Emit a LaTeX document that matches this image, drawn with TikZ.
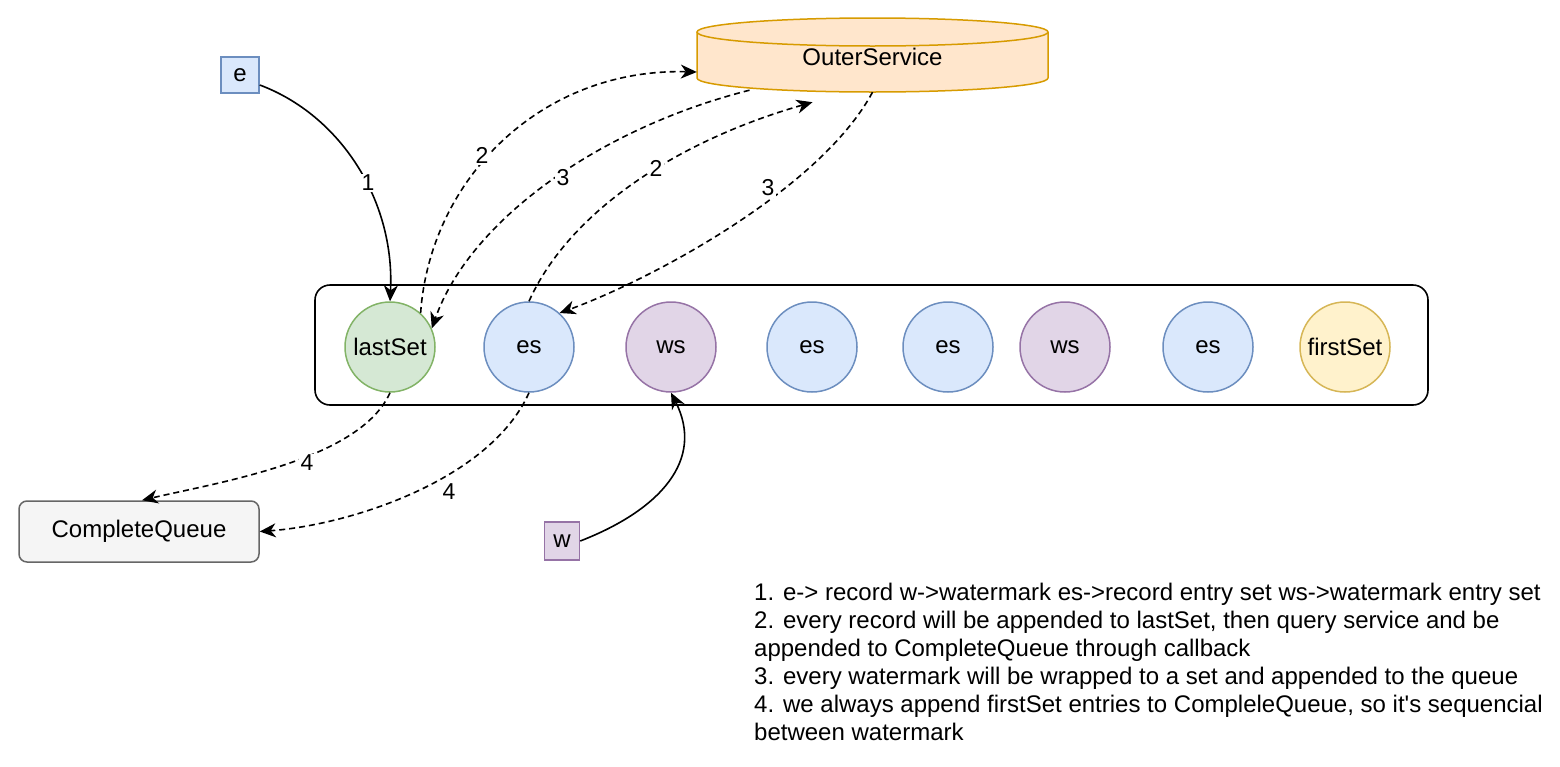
\documentclass[tikz,border=0pt]{standalone}
\usepackage{fontspec}
\setmainfont{Liberation Sans}[Ligatures=TeXOff]
\usetikzlibrary{arrows.meta}
\definecolor{bluefill}{HTML}{DAE8FC}
\definecolor{bluedraw}{HTML}{6C8EBF}
\definecolor{greenfill}{HTML}{D5E8D4}
\definecolor{greendraw}{HTML}{82B366}
\definecolor{purplefill}{HTML}{E1D5E7}
\definecolor{purpledraw}{HTML}{9673A6}
\definecolor{yellowfill}{HTML}{FFF2CC}
\definecolor{yellowdraw}{HTML}{D6B656}
\definecolor{orangefill}{HTML}{FFE6CC}
\definecolor{orangedraw}{HTML}{D79B00}
\definecolor{greyfill}{HTML}{F5F5F5}
\definecolor{greydraw}{HTML}{666666}
\tikzset{
  x=1pt, y=-1pt,
  every node/.style={font=\fontsize{24}{28}\selectfont, inner sep=0pt},
  setnode/.style={circle, minimum size=90pt, line width=1.5pt},
  esnode/.style={setnode, fill=bluefill, draw=bluedraw},
  wsnode/.style={setnode, fill=purplefill, draw=purpledraw},
  conn/.style={line width=1.6pt, -{Stealth[length=16pt,width=14pt,inset=5pt]}},
  dconn/.style={conn, dash pattern=on 6pt off 4pt},
  lbl/.style={fill=white, inner sep=1.5pt, font=\fontsize{23}{26}\selectfont},
}
\begin{document}
\begin{tikzpicture}
\useasboundingbox (0,0) rectangle (1560,766);
% OuterService cylinder
\fill[orangefill] (697,32) -- (697,78) arc[start angle=180, end angle=360, x radius=175.5pt, y radius=14pt] -- (1048,32) arc[start angle=0, end angle=180, x radius=175.5pt, y radius=14pt] -- cycle;
\draw[orangedraw, line width=1.5pt] (697,32) -- (697,78) arc[start angle=180, end angle=360, x radius=175.5pt, y radius=14pt] -- (1048,32);
\draw[orangedraw, line width=1.5pt] (872.5,32) ellipse[x radius=175.5pt, y radius=14pt];
\node[minimum width=351pt, minimum height=74pt] (os) at (872.5,55) {};
\node at (872.5,57) {OuterService};

% queue container
\node[draw, line width=1.6pt, rounded corners=15pt, minimum width=1113pt, minimum height=120pt] (queue) at (871.5,345) {};

% sets
\node[setnode, fill=greenfill, draw=greendraw] (ls) at (390,347) {lastSet};
\node[esnode] (es1) at (529,347) {es};
\node[wsnode] (ws1) at (671,347) {ws};
\node[esnode] (es2) at (812,347) {es};
\node[esnode] (es3) at (948,347) {es};
\node[wsnode] (ws2) at (1065,347) {ws};
\node[esnode] (es4) at (1208,347) {es};
\node[setnode, fill=yellowfill, draw=yellowdraw] (fs) at (1345,347) {firstSet};

% inputs
\node[fill=bluefill, draw=bluedraw, line width=1.5pt, minimum width=38pt, minimum height=36pt] (e) at (240,75) {e};
\node[fill=purplefill, draw=purpledraw, line width=1.5pt, minimum width=35pt, minimum height=38pt] (w) at (562,541) {w};
\node[fill=greyfill, draw=greydraw, line width=1.5pt, rounded corners=8pt, minimum width=240pt, minimum height=61pt] (cq) at (139,531.5) {CompleteQueue};

% connectors
\draw[conn] ([yshift=-10pt]e.east) .. controls (340,115) and (395,200) .. (ls.north);
\node[lbl] at (368,183) {1};

\draw[dconn] (ls.48) .. controls (430,180) and (540,68) .. ([yshift=-17pt]os.west);
\node[lbl] at (482,155) {2};

\draw[dconn] ([xshift=-123pt,yshift=2pt]os.south) .. controls (600,128) and (470,220) .. (ls.24);
\node[lbl] at (563,178) {3};

\draw[dconn] (es1.north) .. controls (570,210) and (680,140) .. ([xshift=-60pt,yshift=-10pt]os.south);
\node[lbl] at (656,168) {2};

\draw[dconn] (os.south) .. controls (820,190) and (650,280) .. (es1.48);
\node[lbl] at (768,188) {3};

\draw[dconn] (ls.south) .. controls (360,460) and (220,482) .. ([xshift=3pt]cq.north);
\node[lbl] at (307,463) {4};

\draw[dconn] (es1.south) .. controls (490,480) and (350,525) .. (cq.east);
\node[lbl] at (449,492) {4};

\draw[conn] (w.east) .. controls (660,510) and (705,460) .. (ws1.south);

% notes
\node[anchor=north west, align=left, font=\fontsize{24}{28}\selectfont] (notes) at (754,583) {1. e-> record w->watermark es->record entry set ws->watermark entry set\\
2. every record will be appended to lastSet, then query service and be\\
appended to CompleteQueue through callback\\
3. every watermark will be wrapped to a set and appended to the queue\\
4. we always append firstSet entries to CompleleQueue, so it's sequencial\\
between watermark};
\end{tikzpicture}
\end{document}
